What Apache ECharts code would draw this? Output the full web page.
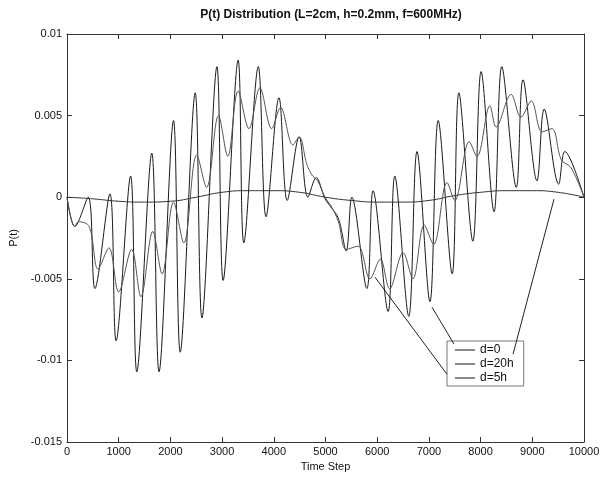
<!DOCTYPE html>
<html><head><meta charset="utf-8">
<script src="https://cdn.jsdelivr.net/npm/echarts@6/dist/echarts.min.js"></script>
<style>html,body{margin:0;padding:0;background:#fff}#c{width:606px;height:478px}</style>
</head><body><div id="c"></div>
<script>
const titleText = 'P(t) Distribution (L=2cm, h=0.2mm, f=600MHz)';
const seriesNames = ['d=0', 'd=20h', 'd=5h'];
const xTicks = [0, 1000, 2000, 3000, 4000, 5000, 6000, 7000, 8000, 9000, 10000];
const yTicks = [-0.015, -0.01, -0.005, 0, 0.005, 0.01];

// d=0 : large oscillation
const d0 = [
[0,0],[150,-0.0018],[410,0.0],[540,-0.0056],[830,0.0002],[950,-0.0088],[1230,0.0013],[1350,-0.0107],
[1640,0.0027],[1780,-0.0107],[2060,0.0047],[2190,-0.0095],[2480,0.0064],[2610,-0.0074],[2900,0.008],
[3020,-0.0051],[3310,0.0084],[3420,-0.0028],[3700,0.008],[3850,-0.0012],[4100,0.0061],[4260,-0.0002],
[4490,0.0037],[4660,0.0],[4820,0.0012],[4990,-0.0001],[5080,-0.0005],[5250,-0.0013],[5400,-0.0033],
[5510,0.0],[5800,-0.0056],[5920,0.0004],[6210,-0.007],[6340,0.0013],[6610,-0.0073],[6770,0.0028],
[7020,-0.0064],[7180,0.0047],[7450,-0.0047],[7580,0.0064],[7850,-0.0027],[8010,0.0077],[8260,-0.0009],
[8410,0.008],[8690,0.0006],[8820,0.0072],[9090,0.001],[9230,0.0054],[9510,0.0008],[9630,0.0028],[10000,0]
];
// d=20h : nearly flat
const d20h = [
[0,0],[500,-0.0001],[1000,-0.00025],[1500,-0.0003],[2000,-0.00025],[2500,0],[3000,0.0003],[3500,0.0004],
[4000,0.0004],[4500,0.0003],[5000,0],[5500,-0.0002],[6000,-0.0003],[6500,-0.0003],[7000,-0.0002],
[7500,0.0001],[8000,0.0003],[8500,0.0004],[9000,0.0004],[9500,0.0003],[10000,0]
];
// d=5h : medium oscillation
const d5h = [
[0,0],[150,-0.0018],[220,-0.0015],[430,-0.0018],[600,-0.0044],[810,-0.0031],[1000,-0.0058],[1250,-0.0032],
[1430,-0.0061],[1660,-0.0021],[1840,-0.0047],[2060,-0.0003],[2260,-0.0028],[2510,0.0026],[2700,0.0006],
[2930,0.005],[3110,0.0025],[3310,0.0065],[3520,0.0042],[3730,0.0067],[3960,0.0042],[4130,0.0055],
[4370,0.0032],[4490,0.0037],[4640,0.002],[4750,0.0013],[4850,0.001],[4990,0.0],[5100,-0.0005],
[5250,-0.0015],[5400,-0.0032],[5630,-0.003],[5860,-0.005],[6060,-0.0038],[6240,-0.0056],[6500,-0.0034],
[6690,-0.005],[6910,-0.0017],[7090,-0.0029],[7350,0.0009],[7500,-0.0002],[7780,0.0034],[7930,0.0025],
[8180,0.0056],[8300,0.0043],[8590,0.0063],[8780,0.0049],[8980,0.0059],[9190,0.004],[9380,0.0042],
[9560,0.0023],[9750,0.0018],[10000,0]
];
// legend leader lines (data coordinates)
const leaders = [
[[7485,-0.0090],[7060,-0.00674]],
[[7350,-0.01085],[5957,-0.0049]],
[[8627,-0.00962],[9420,-0.00012]]
];

const FONT = 'Liberation Sans, Arial, sans-serif';
const axisCommon = {
  axisLine: {show: true, onZero: false, lineStyle: {color: '#333', width: 1}},
  axisTick: {show: true, inside: true, length: 5, lineStyle: {color: '#333'}},
  splitLine: {show: false}
};
const chart = echarts.init(document.getElementById('c'));
chart.setOption({
  animation: false,
  backgroundColor: '#fff',
  title: {text: titleText, left: 326, top: 4, textAlign: 'center',
    textStyle: {fontFamily: FONT, fontSize: 12, fontWeight: 'bold', color: '#111'}},
  grid: {left: 67, right: 22, top: 34, bottom: 36},
  legend: {
    left: 447, top: 341, orient: 'vertical', itemGap: 0, itemWidth: 20, itemHeight: 1,
    icon: 'rect', padding: [2, 10, 1, 8], backgroundColor: '#fff', borderColor: '#777', borderWidth: 1,
    textStyle: {fontFamily: FONT, fontSize: 12, color: '#111', lineHeight: 14},
    data: seriesNames.map(n => ({name: n, itemStyle: {color: '#111'}}))
  },
  xAxis: [
    Object.assign({}, axisCommon, {type: 'value', position: 'bottom', min: xTicks[0], max: xTicks[xTicks.length-1],
      interval: xTicks[1]-xTicks[0], name: 'Time Step', nameLocation: 'middle', nameGap: 17,
      nameTextStyle: {fontFamily: FONT, fontSize: 11, color: '#111'},
      axisLabel: {fontFamily: FONT, fontSize: 11, color: '#111', margin: 4, formatter: v => String(v)}}),
    Object.assign({}, axisCommon, {type: 'value', position: 'top', min: xTicks[0], max: xTicks[xTicks.length-1],
      interval: xTicks[1]-xTicks[0], axisLabel: {show: false}})
  ],
  yAxis: [
    Object.assign({}, axisCommon, {type: 'value', position: 'left', min: yTicks[0], max: yTicks[yTicks.length-1],
      interval: 0.005, name: 'P(t)', nameLocation: 'middle', nameGap: 48, nameRotate: 90,
      nameTextStyle: {fontFamily: FONT, fontSize: 11, color: '#111'},
      axisLabel: {fontFamily: FONT, fontSize: 11, color: '#111', margin: 5, formatter: v => String(+v.toFixed(4))}}),
    Object.assign({}, axisCommon, {type: 'value', position: 'right', min: yTicks[0], max: yTicks[yTicks.length-1],
      interval: 0.005, axisLabel: {show: false}})
  ],
  series: [
    {name: seriesNames[0], type: 'line', data: d0, showSymbol: false, symbol: 'none', smooth: 0.35,
      lineStyle: {color: '#1a1a1a', width: 1}, itemStyle: {color: '#1a1a1a'},
      markLine: {silent: true, symbol: 'none', label: {show: false}, lineStyle: {color: '#222', width: 1, type: 'solid'},
        data: leaders.map(l => [{coord: l[0]}, {coord: l[1]}])}},
    {name: seriesNames[1], type: 'line', data: d20h, showSymbol: false, symbol: 'none', smooth: 0.5,
      lineStyle: {color: '#333', width: 1}, itemStyle: {color: '#333'}},
    {name: seriesNames[2], type: 'line', data: d5h, showSymbol: false, symbol: 'none', smooth: 0.35,
      lineStyle: {color: '#555', width: 1}, itemStyle: {color: '#555'}}
  ]
});
</script></body></html>
